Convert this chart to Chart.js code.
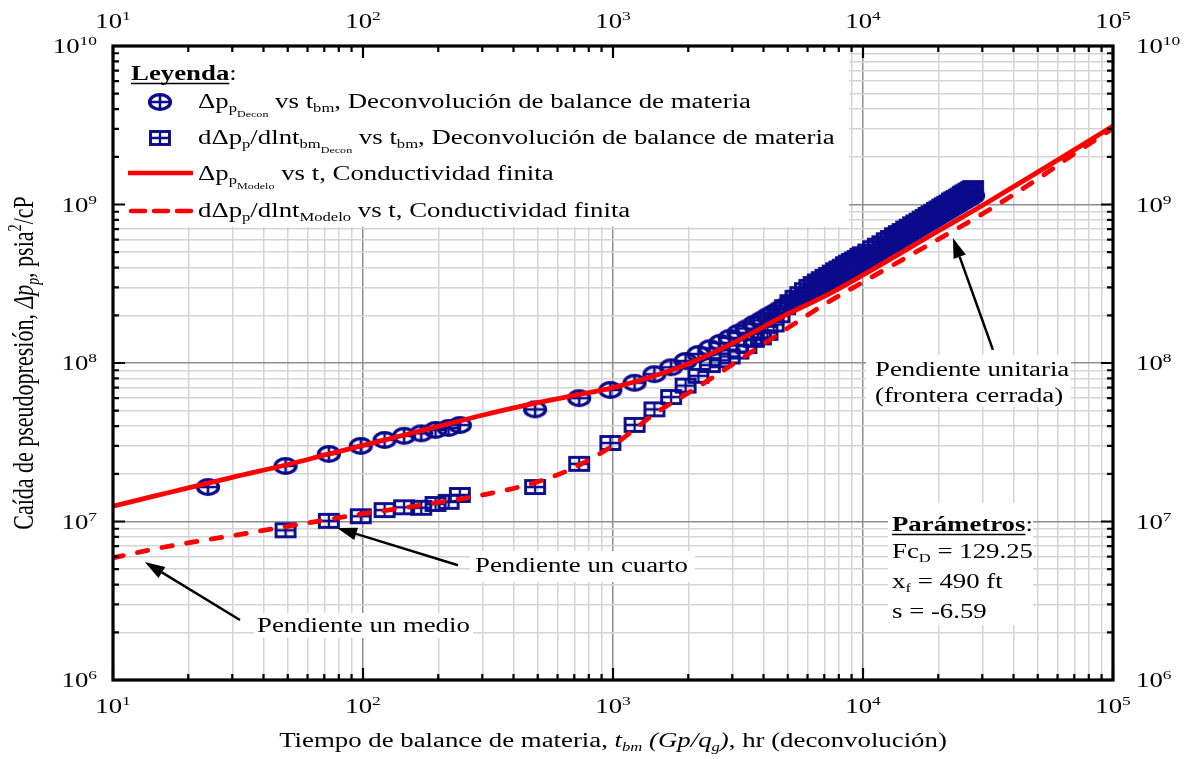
<!DOCTYPE html>
<html>
<head>
<meta charset="utf-8">
<script src="https://cdn.jsdelivr.net/npm/chart.js@4.4.1/dist/chart.umd.min.js"></script>
<style>
  html, body { margin: 0; padding: 0; background: #fff; }
  canvas { display: block; }
</style>
</head>
<body>
<canvas id="myChart" width="1184" height="759"></canvas>
<script>
// tiempo de balance de materia (hr), deconvolucion
const tbm = [
  24, 49, 73, 98, 122, 146, 171, 195, 220, 244,
  488, 732, 976, 1220, 1464, 1708, 1952, 2196, 2440, 2684,
  2928, 3172, 3416, 3660, 3904, 4148, 4392, 4636, 4880, 5124,
  5368, 5612, 5856, 6100, 6344, 6588, 6832, 7076, 7320, 7564,
  7808, 8052, 8296, 8540, 8784, 9028, 9272, 9516, 9760, 10004,
  10492, 10980, 11468, 11956, 12444, 12932, 13420, 13908, 14396, 14884,
  15372, 15860, 16348, 16836, 17324, 17812, 18300, 18788, 19276, 19764,
  20252, 20740, 21228, 21716, 22204, 22692, 23180, 23668, 24156, 24644,
  25132, 25620, 26108, 26596, 27084, 27572
];

// delta pseudopresion (psia2/cP), deconvolucion
const dpDecon = [
  1.65e7, 2.24e7, 2.67e7, 3.0e7, 3.27e7, 3.47e7, 3.6e7, 3.78e7, 3.89e7, 4.06e7,
  5.1e7, 6.0e7, 6.76e7, 7.5e7, 8.5e7, 9.4e7, 1.03e8, 1.14e8, 1.24e8, 1.34e8,
  1.44e8, 1.55e8, 1.65e8, 1.76e8, 1.86e8, 1.97e8, 2.07e8, 2.18e8, 2.28e8, 2.38e8,
  2.48e8, 2.58e8, 2.69e8, 2.79e8, 2.88e8, 2.99e8, 3.08e8, 3.18e8, 3.28e8, 3.38e8,
  3.48e8, 3.57e8, 3.67e8, 3.77e8, 3.86e8, 3.96e8, 4.06e8, 4.16e8, 4.25e8, 4.35e8,
  4.55e8, 4.75e8, 4.95e8, 5.15e8, 5.35e8, 5.55e8, 5.74e8, 5.94e8, 6.14e8, 6.34e8,
  6.53e8, 6.73e8, 6.93e8, 7.13e8, 7.32e8, 7.52e8, 7.71e8, 7.91e8, 8.1e8, 8.3e8,
  8.5e8, 8.69e8, 8.89e8, 9.08e8, 9.27e8, 9.46e8, 9.66e8, 9.85e8, 1.005e9, 1.024e9,
  1.043e9, 1.062e9, 1.081e9, 1.1e9, 1.12e9, 1.138e9
];

// derivada: empieza en el segundo punto de tbm
const tbmDer = tbm.slice(1);
const dDpDecon = [
  8.8e6, 1.01e7, 1.08e7, 1.18e7, 1.23e7, 1.22e7, 1.29e7, 1.33e7, 1.47e7,
  1.65e7, 2.31e7, 3.13e7, 4.07e7, 5.1e7, 6.1e7, 7.2e7, 8.3e7, 9.7e7, 1.04e8,
  1.1e8, 1.18e8, 1.28e8, 1.4e8, 1.45e8, 1.55e8, 1.75e8, 2.0e8, 2.25e8, 2.42e8,
  2.58e8, 2.72e8, 2.88e8, 3.02e8, 3.15e8, 3.27e8, 3.38e8, 3.5e8, 3.6e8, 3.72e8,
  3.85e8, 3.95e8, 4.05e8, 4.2e8, 4.3e8, 4.4e8, 4.5e8, 4.6e8, 4.75e8, 4.85e8,
  5.05e8, 5.3e8, 5.5e8, 5.7e8, 5.95e8, 6.15e8, 6.4e8, 6.6e8, 6.8e8, 7.05e8,
  7.25e8, 7.5e8, 7.7e8, 7.9e8, 8.15e8, 8.35e8, 8.6e8, 8.8e8, 9.0e8, 9.25e8,
  9.45e8, 9.7e8, 9.9e8, 1.01e9, 1.03e9, 1.06e9, 1.08e9, 1.1e9, 1.12e9, 1.14e9,
  1.17e9, 1.19e9, 1.21e9, 1.23e9, 1.25e9, 1.27e9
];

// modelo de conductividad finita
const tModelo = [10, 15, 20, 30, 50, 70, 100, 150, 200, 300, 500, 700, 1000, 1500, 2000,
  3000, 5000, 7000, 10000, 20000, 30000, 50000, 70000, 100000];
const dpModelo = [1.25e7, 1.46e7, 1.63e7, 1.9e7, 2.29e7, 2.62e7, 3.02e7, 3.55e7, 3.98e7, 4.68e7,
  5.62e7, 6.24e7, 7.0e7, 8.4e7, 9.9e7, 1.33e8, 2.04e8, 2.63e8, 3.59e8, 6.8e8, 9.86e8, 1.6e9,
  2.21e9, 3.13e9];
const dDpModelo = [5.9e6, 6.76e6, 7.33e6, 8.13e6, 9.33e6, 1.02e7, 1.12e7, 1.23e7, 1.32e7, 1.47e7,
  1.78e7, 2.19e7, 3.02e7, 4.9e7, 6.46e7, 9.77e7, 1.66e8, 2.34e8, 3.24e8, 6.03e8, 8.71e8, 1.45e9,
  2.09e9, 3.02e9];

// etiquetas de los ejes (10^n)
const xDecades = [10, 100, 1000, 10000, 100000];
const xExp = ['1', '2', '3', '4', '5'];
const yDecades = [1e6, 1e7, 1e8, 1e9, 1e10];
const yExp = ['6', '7', '8', '9', '10'];

const NAVY = '#0b0b8c';
const RED = '#ff0000';
const SERIF = '"Liberation Serif", "Times New Roman", serif';
const SX = 1.34; // the original picture is stretched horizontally

function isDecade(v) {
  const l = Math.log10(v);
  return Math.abs(l - Math.round(l)) < 1e-6;
}
function gridValues(decades) {
  const out = [];
  decades.forEach((d, i) => {
    out.push(d);
    if (i < decades.length - 1) for (let m = 2; m <= 9; m++) out.push(d * m);
  });
  return out;
}
const xGrid = gridValues(xDecades);
const yGrid = gridValues(yDecades);

// marker images
function markerCircle() {
  const c = document.createElement('canvas');
  c.width = 28; c.height = 22;
  const g = c.getContext('2d');
  g.strokeStyle = NAVY;
  g.lineWidth = 3.4;
  g.beginPath(); g.ellipse(14, 11, 10.4, 7.4, 0, 0, Math.PI * 2); g.stroke();
  g.lineWidth = 2.6;
  g.beginPath();
  g.moveTo(3.5, 11); g.lineTo(24.5, 11);
  g.moveTo(14, 3.5); g.lineTo(14, 18.5);
  g.stroke();
  return c;
}
function markerSquare() {
  const c = document.createElement('canvas');
  c.width = 24; c.height = 18;
  const g = c.getContext('2d');
  g.strokeStyle = NAVY;
  g.lineWidth = 2.9;
  g.strokeRect(2.5, 2.5, 19, 13);
  g.lineWidth = 2.3;
  g.beginPath();
  g.moveTo(2.5, 9); g.lineTo(21.5, 9);
  g.moveTo(12, 2.5); g.lineTo(12, 15.5);
  g.stroke();
  return c;
}
const circImg = markerCircle();
const sqImg = markerSquare();

// rich text: parts = [text, level, style]; level 0 normal, 1 sup, -1 sub, -2 sub-sub
function drawRich(ctx, x, y, parts, size, align, rotated) {
  const lv = { '0': [1, 0], '1': [0.65, -0.4], '-1': [0.62, 0.22], '-2': [0.45, 0.46] };
  let w = 0;
  const segs = parts.map(p => {
    const txt = p[0], level = p[1] || 0, st = p[2] || '';
    const k = lv[level];
    const font = (st.includes('i') ? 'italic ' : '') + (st.includes('b') ? 'bold ' : '') +
      (size * k[0]).toFixed(1) + 'px ' + SERIF;
    ctx.font = font;
    const sw = ctx.measureText(txt).width;
    const s = { txt: txt, font: font, dx: w, dy: k[1] * size };
    w += sw;
    return s;
  });
  ctx.save();
  ctx.translate(x, y);
  if (rotated) { ctx.rotate(-Math.PI / 2); ctx.scale(1, SX); }
  else ctx.scale(SX, 1);
  const start = align === 'center' ? -w / 2 : (align === 'right' ? -w : 0);
  ctx.textAlign = 'left';
  ctx.textBaseline = 'alphabetic';
  ctx.fillStyle = '#000';
  segs.forEach(s => { ctx.font = s.font; ctx.fillText(s.txt, start + s.dx, s.dy); });
  ctx.restore();
  return rotated ? w : w * SX;
}

function drawArrow(ctx, x1, y1, x2, y2) {
  const a = Math.atan2(y2 - y1, x2 - x1);
  const L = 20, H = 6.5;
  const bx = x2 - L * Math.cos(a), by = y2 - L * Math.sin(a);
  ctx.save();
  ctx.strokeStyle = '#000';
  ctx.fillStyle = '#000';
  ctx.lineWidth = 2.5;
  ctx.beginPath(); ctx.moveTo(x1, y1); ctx.lineTo(bx, by); ctx.stroke();
  ctx.beginPath();
  ctx.moveTo(x2, y2);
  ctx.lineTo(bx + H * Math.sin(a), by - H * Math.cos(a));
  ctx.lineTo(bx - H * Math.sin(a), by + H * Math.cos(a));
  ctx.closePath();
  ctx.fill();
  ctx.restore();
}

// white boxes behind legend / notes [x1, y1, x2, y2]
const whiteBoxes = [
  [115, 48, 849, 227],
  [888, 503, 1033, 625],
  [866, 355, 1071, 407],
  [470, 551, 695, 582],
  [254, 613, 473, 638]
];

// arrows in data coordinates: tail (t, y) -> tip (t, y)
const arrows = [
  [33100, 1.21e8, 22900, 6.15e8],
  [240, 5.3e6, 78.7, 9.1e6],
  [32.2, 2.39e6, 13.4, 5.55e6]
];

const decor = {
  id: 'decor',
  beforeDatasetsDraw(chart) {
    const ctx = chart.ctx;
    ctx.save();
    ctx.fillStyle = '#fff';
    whiteBoxes.forEach(b => ctx.fillRect(b[0], b[1], b[2] - b[0], b[3] - b[1]));
    ctx.restore();
  },
  afterDraw(chart) {
    const ctx = chart.ctx;
    const area = chart.chartArea;
    const xs = chart.scales.x, ys = chart.scales.y;

    // frame
    ctx.save();
    ctx.strokeStyle = '#000';
    ctx.lineWidth = 3.2;
    ctx.strokeRect(area.left, area.top, area.right - area.left, area.bottom - area.top);

    // inside ticks on all four sides
    ctx.lineWidth = 2.2;
    ctx.beginPath();
    xGrid.forEach(v => {
      const px = xs.getPixelForValue(v);
      const len = isDecade(v) ? 12 : 6;
      ctx.moveTo(px, area.bottom); ctx.lineTo(px, area.bottom - len);
      ctx.moveTo(px, area.top); ctx.lineTo(px, area.top + len);
    });
    yGrid.forEach(v => {
      const py = ys.getPixelForValue(v);
      const len = isDecade(v) ? 12 : 6;
      ctx.moveTo(area.left, py); ctx.lineTo(area.left + len, py);
      ctx.moveTo(area.right, py); ctx.lineTo(area.right - len, py);
    });
    ctx.stroke();
    ctx.restore();

    // tick labels
    xDecades.forEach((v, i) => {
      const px = xs.getPixelForValue(v);
      drawRich(ctx, px, 28, [['10', 0], [xExp[i], 1]], 20, 'center');
      drawRich(ctx, px, 713, [['10', 0], [xExp[i], 1]], 20, 'center');
    });
    yDecades.forEach((v, i) => {
      const py = ys.getPixelForValue(v);
      drawRich(ctx, 97, py + 7, [['10', 0], [yExp[i], 1]], 20, 'right');
      drawRich(ctx, 1136, py + 7, [['10', 0], [yExp[i], 1]], 20, 'left');
    });

    // axis titles
    drawRich(ctx, (area.left + area.right) / 2, 747, [
      ['Tiempo de balance de materia, ', 0], ['t', 0, 'i'], ['bm', -1, 'i'],
      [' (Gp/q', 0, 'i'], ['g', -1, 'i'], [')', 0, 'i'], [', hr (deconvolución)', 0]
    ], 20, 'center');
    drawRich(ctx, 33, (area.top + area.bottom) / 2, [
      ['Caída de pseudopresión, ', 0], ['Δp', 0, 'i'], ['p', -1, 'i'],
      [', psia', 0], ['2', 1], ['/cP', 0]
    ], 22, 'center', true);

    // legend
    const wL = drawRich(ctx, 131, 80, [['Leyenda', 0, 'b']], 20, 'left');
    drawRich(ctx, 131 + wL, 80, [[':', 0]], 20, 'left');
    ctx.save();
    ctx.strokeStyle = '#000';
    ctx.lineWidth = 1.5;
    ctx.beginPath(); ctx.moveTo(131, 83.5); ctx.lineTo(131 + wL, 83.5); ctx.stroke();
    ctx.drawImage(circImg, 160 - circImg.width / 2, 102 - circImg.height / 2);
    ctx.drawImage(sqImg, 160 - sqImg.width / 2, 138 - sqImg.height / 2);
    ctx.strokeStyle = RED;
    ctx.lineWidth = 4.5;
    ctx.beginPath(); ctx.moveTo(128, 173); ctx.lineTo(193, 173); ctx.stroke();
    ctx.lineCap = 'round';
    ctx.beginPath();
    ctx.moveTo(131, 211); ctx.lineTo(145, 211);
    ctx.moveTo(154, 211); ctx.lineTo(168, 211);
    ctx.moveTo(177, 211); ctx.lineTo(191, 211);
    ctx.stroke();
    ctx.restore();

    drawRich(ctx, 198, 108, [
      ['Δp', 0], ['p', -1], ['Decon', -2], [' vs t', 0], ['bm', -1],
      [', Deconvolución de balance de materia', 0]
    ], 20, 'left');
    drawRich(ctx, 198, 144, [
      ['dΔp', 0], ['p', -1], ['/dlnt', 0], ['bm', -1], ['Decon', -2], [' vs t', 0], ['bm', -1],
      [', Deconvolución de balance de materia', 0]
    ], 20, 'left');
    drawRich(ctx, 198, 180, [
      ['Δp', 0], ['p', -1], ['Modelo', -2], [' vs t, Conductividad finita', 0]
    ], 20, 'left');
    drawRich(ctx, 198, 217, [
      ['dΔp', 0], ['p', -1], ['/dlnt', 0], ['Modelo', -1], [' vs t, Conductividad finita', 0]
    ], 20, 'left');

    // parametros
    const wP = drawRich(ctx, 892, 531, [['Parámetros', 0, 'b']], 20, 'left');
    drawRich(ctx, 892 + wP, 531, [[':', 0]], 20, 'left');
    ctx.save();
    ctx.strokeStyle = '#000';
    ctx.lineWidth = 1.5;
    ctx.beginPath(); ctx.moveTo(892, 534.5); ctx.lineTo(892 + wP, 534.5); ctx.stroke();
    ctx.restore();
    drawRich(ctx, 892, 558, [['Fc', 0], ['D', -1], [' = 129.25', 0]], 20, 'left');
    drawRich(ctx, 892, 588, [['x', 0], ['f', -1], [' = 490 ft', 0]], 20, 'left');
    drawRich(ctx, 892, 618, [['s = -6.59', 0]], 20, 'left');

    // notas
    drawRich(ctx, 875, 376, [['Pendiente unitaria', 0]], 20, 'left');
    drawRich(ctx, 875, 402, [['(frontera cerrada)', 0]], 20, 'left');
    drawRich(ctx, 475, 572, [['Pendiente un cuarto', 0]], 20, 'left');
    drawRich(ctx, 257, 632, [['Pendiente un medio', 0]], 20, 'left');

    arrows.forEach(a => {
      drawArrow(ctx, xs.getPixelForValue(a[0]), ys.getPixelForValue(a[1]),
        xs.getPixelForValue(a[2]), ys.getPixelForValue(a[3]));
    });
  }
};

function gridStyle(ctx) {
  return isDecade(ctx.tick.value) ? '#8e8e8e' : '#d4d4d4';
}

const myChart = new Chart(document.getElementById('myChart'), {
  type: 'scatter',
  data: {
    datasets: [
      {
        label: 'dp modelo',
        data: tModelo.map((t, i) => ({ x: t, y: dpModelo[i] })),
        showLine: true,
        borderColor: RED,
        borderWidth: 4.8,
        pointRadius: 0,
        cubicInterpolationMode: 'monotone',
        order: 0
      },
      {
        label: 'derivada modelo',
        data: tModelo.map((t, i) => ({ x: t, y: dDpModelo[i] })),
        showLine: true,
        borderColor: RED,
        borderWidth: 4.8,
        borderDash: [10.5, 14.5],
        borderCapStyle: 'round',
        pointRadius: 0,
        cubicInterpolationMode: 'monotone',
        order: 1
      },
      {
        label: 'derivada decon',
        data: tbmDer.map((t, i) => ({ x: t, y: dDpDecon[i] })),
        pointStyle: sqImg,
        pointRadius: 10,
        order: 2
      },
      {
        label: 'dp decon',
        data: tbm.map((t, i) => ({ x: t, y: dpDecon[i] })),
        pointStyle: circImg,
        pointRadius: 10,
        order: 3
      }
    ]
  },
  options: {
    responsive: false,
    animation: false,
    devicePixelRatio: 1,
    layout: { padding: { left: 113, top: 46, right: 71, bottom: 79 } },
    plugins: { legend: { display: false }, tooltip: { enabled: false } },
    scales: {
      x: {
        type: 'logarithmic',
        min: 10,
        max: 100000,
        afterBuildTicks: s => { s.ticks = xGrid.map(v => ({ value: v })); },
        ticks: { display: false },
        grid: { color: gridStyle, lineWidth: 1.5, drawTicks: false },
        border: { display: false }
      },
      y: {
        type: 'logarithmic',
        min: 1e6,
        max: 1e10,
        afterBuildTicks: s => { s.ticks = yGrid.map(v => ({ value: v })); },
        ticks: { display: false },
        grid: { color: gridStyle, lineWidth: 1.5, drawTicks: false },
        border: { display: false }
      }
    }
  },
  plugins: [decor]
});
</script>
</body>
</html>
